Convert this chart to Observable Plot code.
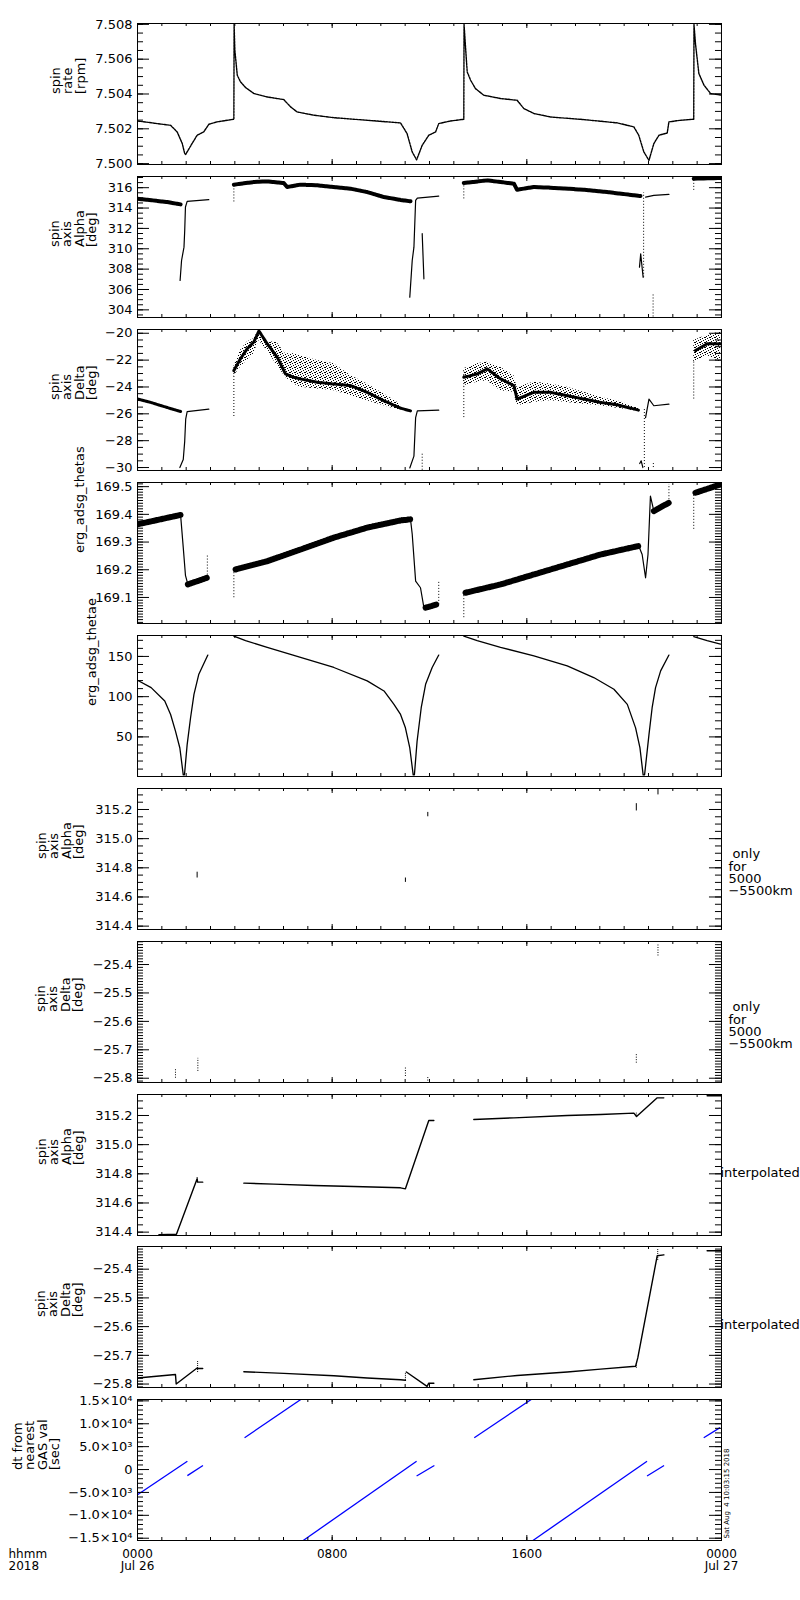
<!DOCTYPE html>
<html>
<head>
<meta charset="utf-8">
<script src="https://cdn.jsdelivr.net/npm/d3@7"></script>
<script src="https://cdn.jsdelivr.net/npm/@observablehq/plot@0.6"></script>
<style>
  body { margin: 0; background: #fff; }
  #chart { width: 800px; padding-top: 23.3px; }
  #chart svg { display: block; }
</style>
</head>
<body>
<div id="chart"></div>
<script>
// time axis (hours of Jul 26 2018)
const hoursMajor = [0, 8, 16, 24];
const hourLabels = ["0000\nJul 26", "0800", "1600", "0000\nJul 27"];

// spin rate [rpm]
const rateTicks = [7.500, 7.502, 7.504, 7.506, 7.508];
const rateH = [0, 1.36, 1.63, 1.84, 1.94, 1.98, 2.24, 2.45, 2.72, 2.93, 3.27, 3.96, 3.97, 4.0, 4.1, 4.23, 4.44, 4.78, 5.33, 6.01, 6.29, 6.56, 7.25, 8.07, 9.44, 10.81, 11.08, 11.29, 11.47, 11.7, 11.97, 12.25, 12.38, 12.86, 13.41, 13.42, 13.48, 13.55, 13.69, 13.89, 14.23, 14.92, 15.6, 15.88, 16.29, 16.97, 18.34, 19.72, 20.4, 20.6, 20.81, 21.02, 21.22, 21.43, 21.77, 21.84, 22.32, 22.86, 22.87, 22.93, 23.07, 23.28, 23.55, 24];
const rateV = [7.50245, 7.5022, 7.50182, 7.50115, 7.50057, 7.50053, 7.50115, 7.50163, 7.50182, 7.50226, 7.5024, 7.50255, 7.508, 7.50652, 7.50508, 7.5047, 7.50437, 7.50403, 7.50383, 7.50368, 7.50326, 7.50297, 7.50278, 7.50264, 7.50249, 7.50234, 7.50172, 7.50067, 7.50022, 7.50105, 7.50163, 7.50182, 7.5023, 7.50245, 7.50255, 7.508, 7.50671, 7.50527, 7.50479, 7.50431, 7.50393, 7.50374, 7.50364, 7.50316, 7.50288, 7.50268, 7.50253, 7.50234, 7.50211, 7.50163, 7.50067, 7.50019, 7.50115, 7.50163, 7.50176, 7.5024, 7.50249, 7.50255, 7.508, 7.50691, 7.50518, 7.50451, 7.50403, 7.50393];

// spin axis Alpha [deg]
const alphaTicks = [304, 306, 308, 310, 312, 314, 316];
const alphaBandH = [0, 1.22, 1.77, NaN, 3.96, 4.78, 5.33, 6.01, 6.15, 6.7, 7.39, 8.76, 9.44, 10.13, 10.81, 11.22, NaN, 13.41, 14.37, 14.92, 15.47, 15.6, 16.29, 16.97, 18.34, 19.3, 20.67, NaN, 22.86, 23.96];
const alphaBandV = [314.92, 314.59, 314.36, NaN, 316.3, 316.56, 316.62, 316.46, 316.07, 316.3, 316.23, 315.9, 315.57, 315.08, 314.8, 314.66, NaN, 316.46, 316.72, 316.56, 316.39, 315.8, 316.07, 316.0, 315.8, 315.57, 315.18, NaN, 316.89, 316.95];
const alphaThinH = [1.75, 1.81, 1.91, 1.94, 1.97, 2.04, 2.93, NaN, 11.19, 11.29, 11.36, 11.43, 11.5, 12.38, NaN, 11.7, 11.77, NaN, 20.63, 20.68, 20.78, NaN, 20.88, 21.22, 21.84];
const alphaThinV = [306.89, 308.85, 310.16, 311.8, 314.1, 314.66, 314.82, NaN, 305.25, 308.85, 310.16, 314.75, 314.98, 315.18, NaN, 311.48, 307.05, NaN, 308.2, 309.5, 307.2, NaN, 315.08, 315.25, 315.34];
const alphaJumpH = [3.96, 13.41, 20.8, 21.19, 22.86];
const alphaJumpLo = [314.6, 314.9, 307.2, 303.3, 315.74];
const alphaJumpHi = [316.2, 316.5, 315.5, 305.6, 316.9];

// spin axis Delta [deg]
const deltaTicks = [-30, -28, -26, -24, -22, -20];
const deltaCoreH = [0, 0.54, 1.22, 1.77, NaN, 3.96, 4.23, 4.51, 4.78, 4.99, 5.33, 5.74, 6.08, 6.42, 6.7, 7.39, 8.07, 8.76, 9.44, 10.13, 10.81, 11.22, NaN, 13.41, 13.96, 14.37, 14.92, 15.47, 15.6, 16.29, 16.97, 17.66, 18.34, 19.03, 19.72, 20.6, NaN, 22.93, 23.41, 23.96];
const deltaCoreV = [-24.9, -25.15, -25.53, -25.83, NaN, -22.78, -21.9, -21.15, -20.65, -19.83, -20.78, -21.78, -23.03, -23.28, -23.4, -23.65, -23.78, -23.9, -24.4, -25.03, -25.58, -25.78, NaN, -23.28, -23.03, -22.65, -23.4, -23.9, -24.9, -24.4, -24.4, -24.65, -24.9, -25.15, -25.33, -25.73, NaN, -21.28, -20.78, -20.78];
const deltaScatH = [3.96, 4.23, 4.51, 4.78, 4.99, 5.33, 5.74, 6.08, 6.42, 6.7, 7.39, 8.07, 8.76, 9.44, 10.13, 10.81, NaN, 13.41, 13.96, 14.37, 14.92, 15.47, 15.6, 16.29, 16.97, 17.66, 18.34, 19.03, 19.72, 20.6, NaN, 22.86, 23.41, 23.96];
const deltaScatHi = [-22.5, -21.28, -20.65, -20.4, -19.78, -20.6, -20.7, -21.53, -21.53, -21.65, -22.03, -22.28, -23.15, -23.78, -24.53, -25.28, NaN, -22.65, -22.28, -22.15, -22.53, -23.15, -24.03, -23.65, -23.78, -24.03, -24.4, -24.78, -25.03, -25.58, NaN, -20.53, -20.15, -19.9];
const deltaScatLo = [-23.2, -22.53, -22.03, -21.53, -20.53, -21.3, -22.4, -23.28, -23.78, -24.03, -24.15, -24.28, -24.65, -25.03, -25.4, -25.78, NaN, -23.9, -23.65, -23.53, -24.28, -24.4, -25.4, -25.15, -25.03, -25.15, -25.28, -25.4, -25.58, -25.83, NaN, -22.15, -21.65, -22.15];
const deltaThinH = [1.74, 1.88, 1.94, 1.98, 2.04, 2.93, NaN, 11.19, 11.36, 11.43, 11.5, 12.38, NaN, 20.64, 20.7, 20.77, NaN, 20.88, 21.02, 21.22, 21.84];
const deltaThinV = [-30.0, -29.4, -28.03, -26.4, -25.83, -25.65, NaN, -30.03, -29.15, -26.28, -25.78, -25.73, NaN, -29.7, -29.5, -30.0, NaN, -26.28, -24.9, -25.4, -25.28];
const deltaJumpH = [3.96, 11.7, 13.41, 20.83, 22.86, 21.2];
const deltaJumpLo = [-26.2, -30.2, -26.28, -30.0, -24.9, -30.0];
const deltaJumpHi = [-22.5, -28.9, -22.9, -25.6, -22.03, -29.6];

// erg_adsg_thetas
const thetasTicks = [169.1, 169.2, 169.3, 169.4, 169.5];
const thetasBandH = [0, 1.77, NaN, 2.07, 2.85, NaN, 4.03, 5.33, 6.7, 8.07, 9.44, 10.81, 11.22, NaN, 11.84, 12.31, NaN, 13.48, 14.92, 16.29, 17.66, 19.03, 20.6, NaN, 21.22, 21.84, NaN, 22.93, 23.96];
const thetasBandV = [169.364, 169.398, NaN, 169.147, 169.171, NaN, 169.201, 169.231, 169.273, 169.316, 169.352, 169.378, 169.382, NaN, 169.063, 169.075, NaN, 169.117, 169.147, 169.183, 169.219, 169.255, 169.286, NaN, 169.412, 169.442, NaN, 169.478, 169.508];
const thetasThinH = [1.77, 1.88, 1.97, 2.07, NaN, 11.22, 11.29, 11.43, 11.63, 11.77, 11.84, NaN, 20.6, 20.74, 20.88, 20.98, 21.08, 21.22];
const thetasThinV = [169.398, 169.28, 169.18, 169.147, NaN, 169.382, 169.328, 169.159, 169.135, 169.063, 169.063, NaN, 169.286, 169.255, 169.171, 169.255, 169.466, 169.412];
const thetasJumpH = [2.87, 3.96, 12.38, 13.41, 21.84, 22.86];
const thetasJumpLo = [169.17, 169.099, 169.075, 169.027, 169.442, 169.346];
const thetasJumpHi = [169.25, 169.201, 169.159, 169.117, 169.508, 169.478];

// erg_adsg_thetae
const thetaeTicks = [50, 100, 150];
const thetaeH = [0, 0.56, 1.12, 1.36, 1.56, 1.74, 1.88, 1.93, 2.04, 2.18, 2.32, 2.52, 2.89, NaN, 3.96, 4.44, 5.33, 6.7, 8.07, 9.44, 10.13, 10.54, 10.81, 11.01, 11.19, 11.33, 11.38, 11.49, 11.66, 11.84, 12.11, 12.38, NaN, 13.41, 13.96, 14.92, 16.29, 17.66, 18.75, 19.58, 20.13, 20.47, 20.65, 20.78, 20.84, 21.02, 21.15, 21.29, 21.5, 21.84, NaN, 22.86, 23.41, 23.96];
const thetaeV = [120.4, 111.25, 94.6, 77.9, 57.1, 36.25, 2.9, 2.9, 40.4, 73.75, 102.9, 127.9, 151.7, NaN, 175.3, 169.6, 161.25, 148.75, 136.25, 119.6, 107.1, 90.4, 77.9, 61.25, 36.25, 2.9, 2.9, 44.6, 86.25, 115.4, 136.25, 151.7, NaN, 175.3, 169.6, 161.25, 150.8, 138.3, 123.75, 109.2, 90.4, 61.25, 36.25, 2.9, 2.9, 52.9, 86.25, 111.25, 132.1, 151.7, NaN, 174.5, 169.6, 165.4];

// spin axis only for 5000-5500km
const alphaFineTicks = [314.4, 314.6, 314.8, 315.0, 315.2];
const onlyAlphaH = [2.45, 11.01, 11.93, 20.5, 21.39];
const onlyAlphaLo = [314.73, 314.70, 315.15, 315.19, 315.30];
const onlyAlphaHi = [314.77, 314.73, 315.18, 315.24, 315.34];
const deltaFineTicks = [-25.8, -25.7, -25.6, -25.5, -25.4];
const onlyDeltaH = [1.56, 2.48, 11.01, 11.93, 20.5, 21.39];
const onlyDeltaLo = [-25.80, -25.776, -25.794, -25.81, -25.747, -25.37];
const onlyDeltaHi = [-25.765, -25.73, -25.759, -25.794, -25.712, -25.33];

// interpolated spin axis
const interpAlphaH = [0.88, 1.6, 2.45, 2.47, 2.68, NaN, 4.37, 5.6, 7.25, 8.89, 10.81, 11.01, 11.97, 12.18, NaN, 13.82, 15.47, 17.66, 19.03, 20.4, 20.51, 21.36, 21.63, NaN, 23.41, 24];
const interpAlphaV = [314.382, 314.386, 314.766, 314.743, 314.743, NaN, 314.736, 314.729, 314.72, 314.713, 314.704, 314.697, 315.166, 315.166, NaN, 315.173, 315.184, 315.2, 315.207, 315.216, 315.193, 315.321, 315.321, NaN, 315.335, 315.335];
const interpAlphaJumpH = [2.45, 20.5];
const interpAlphaJumpLo = [314.74, 315.19];
const interpAlphaJumpHi = [314.78, 315.22];
const interpDeltaH = [0, 1.56, 1.59, 2.45, 2.47, 2.68, NaN, 4.37, 6.01, 8.07, 9.44, 10.81, 11.01, NaN, 11.05, 11.9, 11.97, 12.18, NaN, 13.82, 15.6, 17.66, 19.03, 20.47, 20.56, 21.36, 21.63, NaN, 23.41, 24];
const interpDeltaV = [-25.779, -25.767, -25.8, -25.744, -25.746, -25.746, NaN, -25.757, -25.763, -25.771, -25.779, -25.785, -25.787, NaN, -25.758, -25.808, -25.797, -25.797, NaN, -25.785, -25.77, -25.758, -25.748, -25.738, -25.709, -25.353, -25.35, NaN, -25.336, -25.336];
const interpDeltaJumpH = [2.47, 11.01, 20.5, 21.38];
const interpDeltaJumpLo = [-25.76, -25.787, -25.745, -25.37];
const interpDeltaJumpHi = [-25.72, -25.76, -25.73, -25.33];

// dt from nearest GAS val [sec]
const dtTicks = [-15000, -10000, -5000, 0, 5000, 10000, 15000];
const dtTickLabels = ["−1.5×10⁴", "−1.0×10⁴", "−5.0×10³", "0", "5.0×10³", "1.0×10⁴", "1.5×10⁴"];
const dtStartH = [0, 2.05, 4.40, 6.81, 11.47, 13.84, 16.25, 20.94, 23.27];
const dtEndH = [2.05, 2.69, 6.71, 11.47, 12.2, 16.18, 20.94, 21.64, 23.94];
const dtStartV = [-5500, -1320, 6950, -15500, -1400, 6950, -15500, -1400, 6950];
const dtEndV = [1830, 880, 15300, 1830, 880, 15300, 1830, 880, 9150];

const rows = (h, v) => h.map((x, i) => ({h: x, v: v[i]}));
const spans = (h, lo, hi) => h.map((x, i) => ({h: x, lo: lo[i], hi: hi[i]}));

const H = 141, STEP = 152.9;
const spinAlpha = "spin\naxis\nAlpha\n[deg]";
const spinDelta = "spin\naxis\nDelta\n[deg]";
const onlyText = "\u00a0only\nfor\n5000\n−5500km";

function panel({domain, major, minor, fmt, title, titleDx, marks = [], last = false}) {
  const minorTicks = d3.range(Math.ceil(domain[0] / minor - 1e-6), Math.floor(domain[1] / minor + 1e-6) + 1)
    .map(i => +(i * minor).toFixed(6));
  const mb = last ? 60 : STEP - H;
  const extra = last ? [
    Plot.text(hoursMajor, {x: d => d, text: (d, i) => hourLabels[i], frameAnchor: "bottom", dy: 9, lineAnchor: "top", lineHeight: 1, fontSize: 12}),
    Plot.text(["hhmm\n2018"], {text: d => d, frameAnchor: "bottom-left", dx: -129, dy: 9, textAnchor: "start", lineAnchor: "top", lineHeight: 1, fontSize: 12})
  ] : [];
  return Plot.plot({
    width: 800, height: H + mb,
    marginLeft: 137, marginRight: 79, marginTop: 0, marginBottom: mb,
    x: {domain: [0, 24], axis: null},
    y: {domain, axis: null},
    style: {fontFamily: "DejaVu Sans, sans-serif", fontSize: "13px", color: "black", background: "white", overflow: "visible"},
    marks: [
      ...marks,
      Plot.ruleY(minorTicks, {y: d => d, insetRight: 578}),
      Plot.ruleY(minorTicks, {y: d => d, insetLeft: 578}),
      Plot.ruleY(major, {y: d => d, insetRight: 572}),
      Plot.ruleY(major, {y: d => d, insetLeft: 572}),
      Plot.ruleX(d3.range(0, 25), {x: d => d, insetBottom: H - 3}),
      Plot.ruleX(d3.range(0, 25), {x: d => d, insetTop: H - 3}),
      Plot.ruleX(hoursMajor, {x: d => d, insetBottom: H - 5}),
      Plot.ruleX(hoursMajor, {x: d => d, insetTop: H - 5}),
      Plot.frame({stroke: "black"}),
      Plot.text(major, {y: d => d, text: (d, i) => fmt(d, i), frameAnchor: "left", dx: -5, textAnchor: "end"}),
      Plot.text([title], {text: d => d, frameAnchor: "left", dx: titleDx, rotate: -90, lineHeight: 0.95}),
      ...extra
    ]
  });
}

const line = (h, v, w, dash) => Plot.line(rows(h, v), {x: "h", y: "v", stroke: "black", strokeWidth: w, strokeDasharray: dash, clip: true});
const jumps = (h, lo, hi, dash = "1,2") => Plot.ruleX(spans(h, lo, hi), {x: "h", y1: "lo", y2: "hi", stroke: "black", strokeDasharray: dash, clip: true});
const sideNote = (t, dx, dy) => Plot.text([t], {text: d => d, frameAnchor: "right", dx, dy, textAnchor: "start", lineHeight: 0.95});

const f3 = d3.format(".3f"), f1 = d3.format(".1f"), f0 = d3.format("d");

const panels = [
  panel({domain: [7.49995, 7.50805], major: rateTicks, minor: 0.0005, fmt: f3, title: "spin\nrate\n[rpm]", titleDx: -69,
    marks: [line(rateH, rateV, 1.4, "2,1")]}),
  panel({domain: [303.25, 317.1], major: alphaTicks, minor: 0.5, fmt: f0, title: spinAlpha, titleDx: -64,
    marks: [line(alphaBandH, alphaBandV, 4, "4,1"), line(alphaThinH, alphaThinV, 1.2), jumps(alphaJumpH, alphaJumpLo, alphaJumpHi)]}),
  panel({domain: [-30.22, -19.72], major: deltaTicks, minor: 0.5, fmt: f0, title: spinDelta, titleDx: -64,
    marks: [
      Plot.areaY(spans(deltaScatH, deltaScatLo, deltaScatHi), {x: "h", y1: "lo", y2: "hi", fill: "url(#speck)", clip: true}),
      line(deltaCoreH, deltaCoreV, 3, "3,1"), line(deltaThinH, deltaThinV, 1.2), jumps(deltaJumpH, deltaJumpLo, deltaJumpHi)]}),
  panel({domain: [169.006, 169.515], major: thetasTicks, minor: 0.01, fmt: f1, title: "erg_adsg_thetas", titleDx: -57,
    marks: [line(thetasBandH, thetasBandV, 6, "2,1"), line(thetasThinH, thetasThinV, 1.2), jumps(thetasJumpH, thetasJumpLo, thetasJumpHi)]}),
  panel({domain: [0.8, 176], major: thetaeTicks, minor: 10, fmt: f0, title: "erg_adsg_thetae", titleDx: -45,
    marks: [line(thetaeH, thetaeV, 1.3)]}),
  panel({domain: [314.377, 315.344], major: alphaFineTicks, minor: 0.05, fmt: f1, title: spinAlpha, titleDx: -77,
    marks: [jumps(onlyAlphaH, onlyAlphaLo, onlyAlphaHi, null), sideNote(onlyText, 7, 14)]}),
  panel({domain: [-25.815, -25.319], major: deltaFineTicks, minor: 0.01, fmt: f1, title: spinDelta, titleDx: -78,
    marks: [jumps(onlyDeltaH, onlyDeltaLo, onlyDeltaHi, "1,1.5"), sideNote(onlyText, 7, 14)]}),
  panel({domain: [314.377, 315.344], major: alphaFineTicks, minor: 0.05, fmt: f1, title: spinAlpha, titleDx: -77,
    marks: [line(interpAlphaH, interpAlphaV, 1.4), jumps(interpAlphaJumpH, interpAlphaJumpLo, interpAlphaJumpHi, "1,1"), sideNote("interpolated", -1, 8)]}),
  panel({domain: [-25.812, -25.321], major: deltaFineTicks, minor: 0.01, fmt: f1, title: spinDelta, titleDx: -78,
    marks: [line(interpDeltaH, interpDeltaV, 1.4), jumps(interpDeltaJumpH, interpDeltaJumpLo, interpDeltaJumpHi, "1,1"), sideNote("interpolated", -1, 8)]}),
  panel({domain: [-15500, 15300], major: dtTicks, minor: 1000, fmt: (d, i) => dtTickLabels[i], title: "dt from\nnearest\nGAS val\n[sec]", titleDx: -101, last: true,
    marks: [
      Plot.link(dtStartH.map((h, i) => ({h1: h, h2: dtEndH[i], v1: dtStartV[i], v2: dtEndV[i]})),
        {x1: "h1", x2: "h2", y1: "v1", y2: "v2", stroke: "#0000ff", strokeWidth: 1.3, clip: true}),
      Plot.text(["Sat Aug\u00a0 4 10:03:15 2018"], {text: d => d, frameAnchor: "bottom-right", dx: 7, dy: -2, rotate: -90, textAnchor: "start", fontSize: 7})
    ]})
];

// speckle pattern for the scattered spin axis Delta points
const defs = d3.select(panels[2]).insert("defs", ":first-child");
const pat = defs.append("pattern").attr("id", "speck").attr("width", 5).attr("height", 5).attr("patternUnits", "userSpaceOnUse");
[[0, 0], [3, 1], [1, 2], [4, 3], [2, 4], [0, 3]].forEach(([x, y]) =>
  pat.append("rect").attr("x", x).attr("y", y).attr("width", 1).attr("height", 1).attr("fill", "black"));

const chart = d3.select("#chart");
panels.forEach(p => chart.append(() => p));
</script>
</body>
</html>
